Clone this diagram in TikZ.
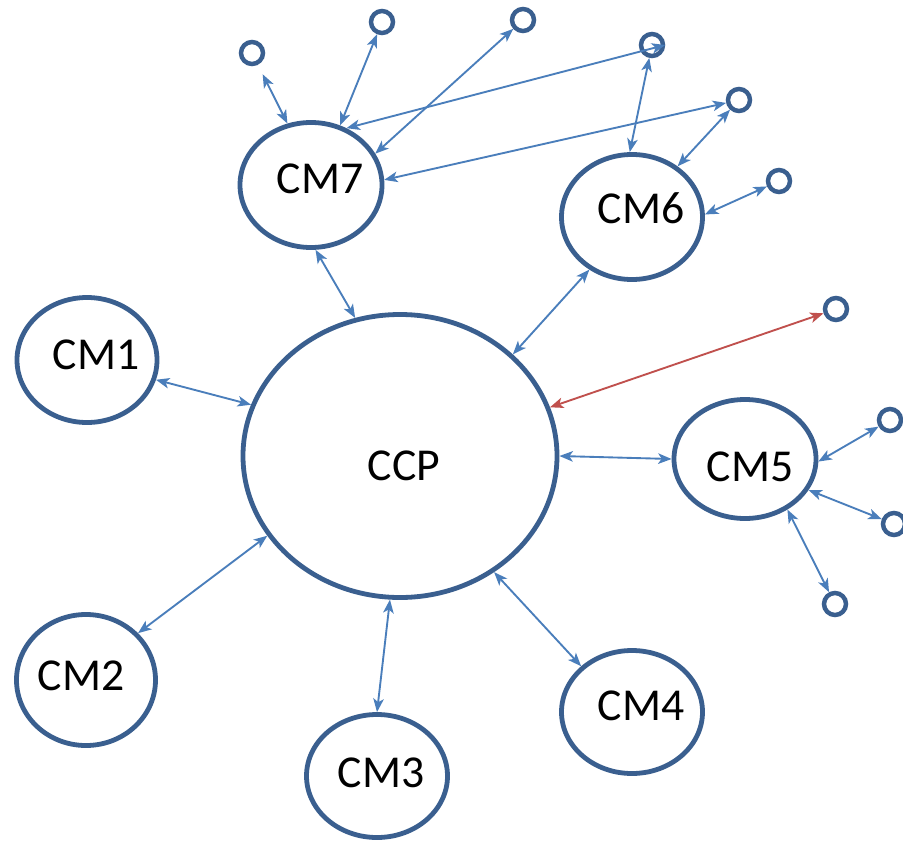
\documentclass[tikz,border=0pt]{standalone}
\usepackage{fontspec}
\setmainfont{Carlito}
\usetikzlibrary{shapes.geometric,arrows.meta}
\definecolor{ringblue}{HTML}{3A5F8F}
\definecolor{linkblue}{HTML}{4A7EBB}
\definecolor{linkred}{HTML}{C0504D}
\tikzset{
  ell/.style={ellipse,draw=ringblue,line width=4.1pt,inner sep=0pt},
  dot/.style={circle,draw=ringblue,line width=3.8pt,inner sep=0pt,minimum size=0.66cm},
  lbl/.style={inner sep=0pt,font=\fontsize{39}{45}\selectfont},
  link/.style={draw=linkblue,line width=1.6pt,{Stealth[length=11.5pt,width=9pt,inset=3pt]}-{Stealth[length=11.5pt,width=9pt,inset=3pt]}},
  redlink/.style={link,draw=linkred}
}
\begin{document}
\begin{tikzpicture}[x=0.03cm,y=-0.03cm]
\useasboundingbox (0,0) rectangle (903,843);
% ellipses
\node[ell,minimum width=9.42cm,minimum height=8.49cm] (CCP) at (400,456) {};
\node[ell,minimum width=4.2cm,minimum height=3.75cm] (CM1) at (87,360) {};
\node[ell,minimum width=4.17cm,minimum height=3.93cm] (CM2) at (86,680) {};
\node[ell,minimum width=4.23cm,minimum height=3.69cm] (CM3) at (377,776) {};
\node[ell,minimum width=4.23cm,minimum height=3.69cm] (CM4) at (632,712) {};
\node[ell,minimum width=4.26cm,minimum height=3.57cm] (CM5) at (745,459) {};
\node[ell,minimum width=4.23cm,minimum height=3.75cm] (CM6) at (632,217) {};
\node[ell,minimum width=4.26cm,minimum height=3.75cm] (CM7) at (311,185) {};
% labels
\node[lbl] (tCCP) at (404,466) {CCP};
\node[lbl] (t1) at (96,355) {CM1};
\node[lbl] (t2) at (81,676) {CM2};
\node[lbl] (t3) at (381,773) {CM3};
\node[lbl] (t4) at (641,706) {CM4};
\node[lbl] (t5) at (750,467) {CM5};
\node[lbl] (t6) at (641,208) {CM6};
\node[lbl] (t7) at (320,179) {CM7};
% small circles
\node[dot] (a) at (252,53) {};
\node[dot] (b) at (382,22) {};
\node[dot] (c) at (523,20) {};
\node[dot] (d) at (652,45) {};
\node[dot] (e) at (739,100) {};
\node[dot] (f) at (779,181) {};
\node[dot] (g) at (836,309) {};
\node[dot] (h) at (890,420) {};
\node[dot] (i) at (894,524) {};
\node[dot] (j) at (835,604) {};
% CCP links
\draw[link] (CM1.-16) -- (CCP.161);
\draw[link] (CM2.42) -- (CCP.-149);
\draw[link] (CM3.90) -- (CCP.-94);
\draw[link] (CM4.138) -- (CCP.-51);
\draw[link] (CCP.0) -- (CM5.180);
\draw[link] (CCP.42) -- (CM6.-129);
\draw[link] (CCP.108) -- (CM7.-86);
\draw[redlink] (CCP.18) -- (g);
% CM7 links
\draw[link,shorten >=9pt] (CM7.111) -- (a);
\draw[link] (CM7.64) -- (b);
\draw[link] (CM7.26) -- (c);
\draw[link] (CM7.58) -- (d.east);
\draw[link] (CM7.4) -- (e);
% CM6 links
\draw[link] (CM6.92) -- (d);
\draw[link] (CM6.48) -- (e);
\draw[link] (CM6.2) -- (f);
% CM5 links
\draw[link] (CM5.-2) -- (h);
\draw[link] (CM5.-26) -- (i);
\draw[link] (CM5.-50) -- (j);
\end{tikzpicture}
\end{document}
